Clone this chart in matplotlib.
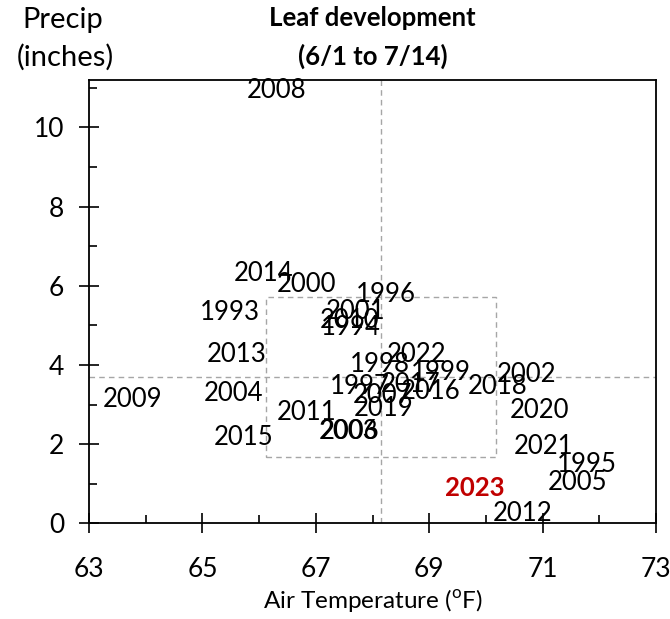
import matplotlib
matplotlib.use("Agg")
import matplotlib.pyplot as plt
from matplotlib.patches import Rectangle
from matplotlib.ticker import FixedLocator

plt.rcParams['font.family'] = ['Lato', 'DejaVu Sans']

years = ['1993', '1994', '1995', '1996', '1997', '1998', '1999', '2000', '2001', '2002',
         '2003', '2004', '2005', '2006', '2007', '2008', '2009', '2010', '2011', '2012',
         '2013', '2014', '2015', '2016', '2017', '2018', '2019', '2020', '2021', '2022', '2023']
temp = [65.49, 67.62, 71.78, 68.24, 67.78, 68.13, 69.21, 66.84, 67.71, 70.72,
        67.57, 65.54, 71.61, 67.60, 68.17, 66.30, 63.76, 67.60, 66.83, 70.65,
        65.61, 66.07, 65.72, 69.03, 68.68, 70.20, 68.20, 70.94, 71.02, 68.77, 69.81]
precip = [5.32, 4.94, 1.48, 5.77, 3.45, 4.00, 3.80, 6.03, 5.35, 3.75,
          2.31, 3.29, 1.04, 2.31, 3.24, 10.93, 3.12, 5.12, 2.79, 0.24,
          4.26, 6.30, 2.16, 3.32, 3.50, 3.45, 2.91, 2.86, 1.93, 4.26, 0.90]
highlight_year = '2023'

temp_mean = 68.15
precip_mean = 3.69
temp_sd = 2.03
precip_sd = 2.02

x_major = [63, 65, 67, 69, 71, 73]
x_minor = [64, 66, 68, 70, 72]
y_major = [0, 2, 4, 6, 8, 10]
y_minor = [1, 3, 5, 7, 9, 11]

fig = plt.figure(figsize=(6.7, 6.19), dpi=100)
ax = fig.add_axes([89/670, 1 - 523.3/619, (656-89)/670, (523.3-80)/619])

ax.set_xlim(63, 73)
ax.set_ylim(0, 11.2)

dash_kw = dict(color='#a6a6a6', linewidth=1.0, linestyle=(0, (4, 3)), zorder=1)
ax.axvline(temp_mean, **dash_kw)
ax.axhline(precip_mean, **dash_kw)
ax.add_patch(Rectangle((temp_mean - temp_sd, precip_mean - precip_sd), 2 * temp_sd, 2 * precip_sd,
                       fill=False, edgecolor='#a6a6a6', linewidth=1.0, linestyle=(0, (4, 3)), zorder=1))

for yr, t, p in zip(years, temp, precip):
    if yr == highlight_year:
        ax.text(t, p, yr, ha='center', va='center', fontsize=18.5, color='#c00000',
                fontweight='bold', zorder=3)
    else:
        ax.text(t, p, yr, ha='center', va='center', fontsize=18.5, color='black', zorder=3)

ax.xaxis.set_major_locator(FixedLocator(x_major))
ax.xaxis.set_minor_locator(FixedLocator(x_minor))
ax.yaxis.set_major_locator(FixedLocator(y_major))
ax.yaxis.set_minor_locator(FixedLocator(y_minor))
ax.tick_params(which='major', direction='inout', length=14, width=1.2, labelsize=19)
ax.tick_params(which='minor', direction='in', length=6, width=1.2)
ax.tick_params(axis='x', which='major', pad=17)
ax.tick_params(axis='y', which='major', pad=11)
for s in ax.spines.values():
    s.set_linewidth(1.3)
    s.set_color('black')

cx = (89 + 656) / 2 / 670
fig.text(cx, 1 - 18/619, 'Leaf development', ha='center', va='center', fontsize=18.5, fontweight='bold')
fig.text(cx, 1 - 56/619, '(6/1 to 7/14)', ha='center', va='center', fontsize=18.5, fontweight='bold')
fig.text(63/670, 1 - 20/619, 'Precip', ha='center', va='center', fontsize=21)
fig.text(65/670, 1 - 57/619, '(inches)', ha='center', va='center', fontsize=21)
fig.text(cx, 1 - 601/619, r'Air Temperature ($^{\mathregular{o}}$F)', ha='center', va='center', fontsize=17.5)

fig.savefig('out.png', dpi=100)
